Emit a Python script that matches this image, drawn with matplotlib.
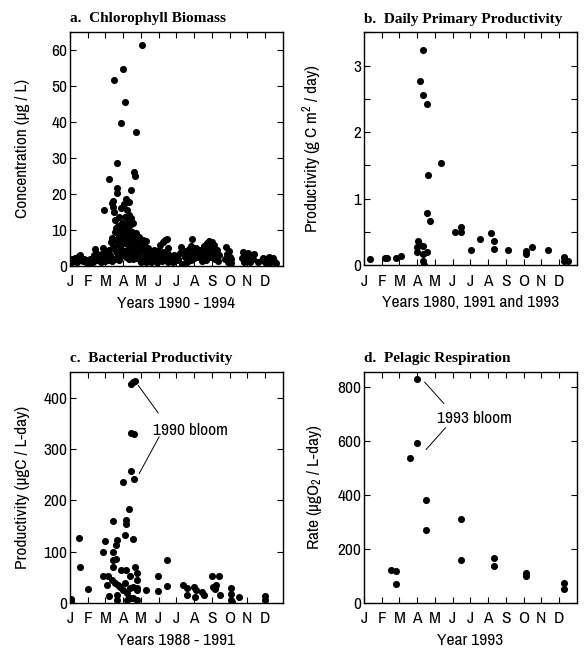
import matplotlib
matplotlib.use("Agg")
import matplotlib.pyplot as plt
from matplotlib.ticker import MultipleLocator

plt.rcParams['font.family'] = ['Archivo Narrow', 'DejaVu Sans']
plt.rcParams['mathtext.fontset'] = 'custom'
plt.rcParams['mathtext.rm'] = 'Archivo Narrow'
plt.rcParams['mathtext.it'] = 'Archivo Narrow'

months = ['J', 'F', 'M', 'A', 'M', 'J', 'J', 'A', 'S', 'O', 'N', 'D']

# a. chlorophyll, month (0 = 1 Jan) vs ug/L
chl_month = [
    0.05, 0.12, 0.2, 0.28, 0.35, 0.42, 0.5, 0.58, 0.65, 0.72, 0.8, 0.88, 0.95,
    1.05, 1.12, 1.2, 1.28, 1.35, 1.4, 1.45, 1.5, 1.58, 1.65, 1.72, 1.8, 1.85, 1.9, 1.95,
    2.02, 2.08, 2.12, 2.18, 2.22, 2.25, 2.3, 2.33, 2.36, 2.38, 2.4, 2.42, 2.45, 2.47,
    2.5, 2.52, 2.55, 2.57, 2.6, 2.62, 2.63, 2.63, 2.65, 2.67, 2.7, 2.72, 2.75, 2.78,
    2.8, 2.82, 2.85, 2.87, 2.89, 2.9, 2.92, 2.95, 2.97,
    3.0, 3.02, 3.05, 3.08, 3.1, 3.1, 3.12, 3.15, 3.18, 3.2, 3.22, 3.25, 3.28, 3.3,
    3.32, 3.35, 3.38, 3.4, 3.42, 3.45, 3.46, 3.48, 3.5, 3.52, 3.55, 3.58, 3.6, 3.62,
    3.65, 3.68, 3.7, 3.72, 3.75, 3.78, 3.8, 3.82, 3.85, 3.88, 3.9, 3.92, 3.95, 3.98,
    3.05, 3.15, 3.25, 3.35, 3.45, 3.55, 3.65, 3.75, 3.85, 3.95,
    4.02, 4.07, 4.1, 4.15, 4.2, 4.25, 4.3, 4.35, 4.4, 4.45, 4.5, 4.55, 4.6, 4.65,
    4.7, 4.75, 4.8, 4.85, 4.9, 4.95, 4.12, 4.28, 4.42, 4.58, 4.72, 4.88,
    5.0, 5.05, 5.1, 5.15, 5.2, 5.25, 5.3, 5.35, 5.4, 5.45, 5.5, 5.55, 5.6, 5.65,
    5.7, 5.75, 5.8, 5.85, 5.9, 6.0, 6.1, 6.2, 6.28, 6.3,
    6.5, 6.55, 6.6, 6.65, 6.7, 6.75, 6.8, 6.85, 6.9, 6.95, 7.0, 7.05, 7.1, 7.15,
    7.3, 7.35, 7.4, 7.5, 7.55, 7.6, 7.7, 7.75, 7.8, 7.85, 7.9, 7.95, 8.0, 8.05,
    8.1, 8.15, 8.2, 8.3, 8.4,
    8.75, 8.8, 8.85, 8.9, 8.95, 9.0, 9.05, 9.1,
    9.7, 9.75, 9.8, 9.9, 10.0, 10.05, 10.1, 10.2, 10.3, 10.35, 10.6,
    10.85, 10.9, 11.0, 11.05, 11.1, 11.2, 11.3, 11.35, 11.45, 11.5, 11.6,
    0.1, 0.4, 0.75, 1.0, 1.3, 1.55, 1.75, 2.0, 2.2, 2.35, 2.55, 2.75, 4.0, 4.3, 4.6,
    4.9, 5.2, 5.5, 5.8, 6.05, 6.6, 6.85, 7.45, 7.65, 8.25, 8.35, 8.95, 9.8, 10.15,
]
chl_value = [
    1.6, 2.0, 1.3, 2.2, 1.8, 1.4, 2.6, 3.1, 2.0, 1.5, 1.9, 1.2, 1.6,
    1.4, 1.8, 1.2, 2.3, 3.0, 4.8, 3.6, 2.5, 1.8, 2.9, 2.2, 3.4, 4.9, 15.5, 3.2,
    2.5, 3.8, 2.0, 4.5, 24.2, 3.0, 6.5, 2.2, 7.8, 17.5, 18.0, 16.2, 5.2, 51.5,
    14.8, 9.5, 12.8, 4.0, 7.2, 10.5, 21.5, 20.2, 28.5, 3.5, 11.0, 6.0, 8.5, 13.5,
    5.5, 9.8, 16.0, 3.0, 39.5, 7.5, 12.0, 4.5, 10.2,
    54.5, 8.5, 17.2, 13.5, 45.5, 6.2, 11.0, 18.5, 9.0, 15.5, 4.5, 12.2, 7.5, 17.8,
    10.0, 14.0, 5.5, 8.8, 11.5, 13.2, 21.0, 6.8, 9.5, 4.2, 7.8, 12.0, 26.0, 5.0,
    8.2, 25.0, 37.0, 6.5, 9.0, 4.0, 7.2, 5.5, 3.2, 6.8, 8.0, 4.5, 7.0, 5.2,
    3.0, 2.5, 3.5, 2.0, 2.8, 1.8, 3.2, 2.2, 2.6, 1.5,
    6.5, 61.2, 7.2, 4.0, 5.8, 3.2, 6.8, 2.5, 5.0, 3.8, 2.2, 4.2, 3.0, 1.8,
    2.8, 4.5, 2.0, 3.2, 1.5, 2.5, 2.0, 1.5, 1.8, 1.2, 1.6, 1.0,
    4.5, 2.0, 5.8, 3.0, 2.2, 6.5, 3.8, 7.3, 2.5, 7.5, 5.0, 3.2, 2.0, 2.8,
    1.8, 2.5, 2.0, 3.0, 1.5, 2.5, 2.0, 3.5, 5.3, 0.4,
    2.5, 4.0, 3.2, 1.8, 4.8, 2.8, 3.5, 5.5, 7.4, 4.2, 2.2, 3.8, 5.0, 2.5,
    3.0, 4.5, 2.2, 3.8, 5.5, 2.8, 4.2, 6.2, 3.5, 6.8, 5.0, 2.5, 6.5, 4.0,
    5.8, 3.2, 2.0, 4.5, 3.0,
    2.0, 5.3, 3.2, 1.2, 4.2, 2.5, 0.8, 2.0,
    2.2, 3.8, 3.0, 1.8, 2.5, 3.5, 1.5, 2.8, 2.0, 3.2, 1.0,
    1.5, 2.3, 1.2, 2.0, 0.8, 2.5, 1.5, 1.0, 2.2, 1.4, 0.7,
    1.0, 1.1, 1.3, 0.9, 1.2, 1.5, 1.0, 1.4, 1.6, 1.3, 1.8, 1.5, 1.2, 1.0, 1.3,
    1.1, 1.4, 1.2, 1.0, 1.5, 1.2, 1.6, 1.3, 1.5, 1.8, 1.4, 1.1, 1.2, 1.0,
]

# b. daily primary productivity (g C m2 / day)
pp_month = [0.32, 1.18, 1.31, 1.8, 2.1, 3.04, 3.0, 3.15, 3.3, 3.0, 3.55, 3.3, 3.34, 3.36,
            3.14, 3.34, 3.34, 3.57, 3.62, 3.55, 3.7, 4.34, 5.15, 5.45, 5.45, 6.05, 6.54,
            7.14, 7.34, 7.34, 8.11, 9.16, 9.16, 9.46, 10.38, 11.27, 11.3, 11.5]
pp_value = [0.09, 0.11, 0.11, 0.11, 0.14, 0.37, 0.27, 0.30, 0.29, 0.20, 0.20, 0.17, 0.06, 0.01,
            2.76, 3.24, 2.56, 2.42, 1.35, 0.79, 0.67, 1.54, 0.50, 0.57, 0.50, 0.23, 0.39,
            0.48, 0.36, 0.25, 0.23, 0.21, 0.17, 0.27, 0.23, 0.12, 0.07, 0.07]

# c. bacterial productivity (ugC / L-day)
bp_month = [0.06, 0.06, 0.53, 0.56, 1.0, 1.84, 1.99, 1.88, 2.07, 2.16, 2.2, 2.4, 2.44,
            2.57, 2.67, 2.44, 2.44, 2.6, 2.35, 2.54, 2.72, 2.8, 2.63, 2.63, 2.9, 2.97,
            3.1, 3.14, 3.14, 3.15, 3.1, 3.0, 3.2, 3.2, 3.34, 3.44, 3.44, 3.62, 3.44, 3.57,
            3.66, 3.6, 3.57, 3.66, 3.38, 3.38, 3.38, 3.57, 3.57, 3.76, 3.76, 3.76, 3.8, 3.8,
            4.28, 4.98, 4.98, 5.45, 5.45, 6.38, 6.57, 6.6, 7.0, 7.04, 7.1, 7.47, 7.55,
            8.0, 8.08, 8.19, 8.41, 8.45, 8.23, 9.07, 9.1, 9.1, 9.13, 9.54, 10.99, 10.99]
bp_value = [8, 1, 127, 71, 27, 99, 120, 53, 36, 53, 13, 160, 99,
            113, 123, 84, 71, 85, 45, 39, 36, 32, 16, 6, 65, 236,
            133, 162, 154, 65, 39, 26, 19, 6, 183, 258, 332, 330, 427, 430,
            432, 242, 125, 70, 52, 30, 10, 32, 10, 58, 45, 30, 26, 6,
            25, 52, 23, 84, 34, 36, 29, 16, 32, 11, 25, 21, 16,
            53, 32, 27, 52, 16, 36, 30, 17, 6, 1, 11, 14, 6]

# d. pelagic respiration 1993 (ugO2 / L-day)
resp_month = [1.5, 1.78, 1.78, 2.57, 2.97, 2.97, 3.47, 3.47, 5.45, 5.48, 7.32, 7.32,
              9.15, 9.15, 11.27, 11.27]
resp_value = [123, 119, 72, 537, 831, 594, 380, 272, 310, 160, 167, 136,
              111, 99, 74, 53]

fig = plt.figure(figsize=(5.88, 6.58), dpi=100)
ax_a = fig.add_axes([0.119, 0.596, 0.362, 0.356])
ax_b = fig.add_axes([0.619, 0.597, 0.362, 0.354])
ax_c = fig.add_axes([0.119, 0.0836, 0.362, 0.351])
ax_d = fig.add_axes([0.619, 0.0836, 0.362, 0.351])

title_font = dict(family='Liberation Serif', weight='bold', size=11)
FS = 12.5


def style(ax, title, xlabel, ylabel):
    ax.set_xlim(0, 12)
    ax.set_xticks(range(12))
    ax.set_xticklabels(months)
    ax.tick_params(direction='in', length=4, width=0.8, top=True, right=True,
                   labelsize=FS, which='both')
    ax.tick_params(axis='y', pad=2)
    ax.tick_params(axis='x', pad=6)
    for s in ax.spines.values():
        s.set_linewidth(1.0)
    ax.set_title(title, loc='left', pad=7, fontdict=title_font)
    ax.set_xlabel(xlabel, fontsize=FS, labelpad=5)
    ax.set_ylabel(ylabel, fontsize=FS)
    ax.yaxis.set_label_coords(-0.19, 0.5)


ax_a.scatter(chl_month, chl_value, s=26, color='black', linewidths=0, zorder=3)
ax_a.set_ylim(0, 65)
ax_a.set_yticks(range(0, 61, 10))
style(ax_a, 'a.  Chlorophyll Biomass', 'Years 1990 - 1994', 'Concentration (µg / L)')

ax_b.scatter(pp_month, pp_value, s=26, color='black', linewidths=0, zorder=3)
ax_b.set_ylim(0, 3.5)
ax_b.set_yticks([0, 1, 2, 3])
ax_b.yaxis.set_minor_locator(MultipleLocator(0.5))
style(ax_b, 'b.  Daily Primary Productivity', 'Years 1980, 1991 and 1993',
      'Productivity (g C m$^2$ / day)')

ax_c.scatter(bp_month, bp_value, s=26, color='black', linewidths=0, zorder=3)
ax_c.set_ylim(0, 450)
ax_c.set_yticks(range(0, 401, 100))
style(ax_c, 'c.  Bacterial Productivity', 'Years 1988 - 1991', 'Productivity (µgC / L-day)')
ax_c.text(6.8, 337, '1990 bloom', fontsize=FS, ha='center', va='center')
ax_c.annotate('', xy=(3.85, 424), xytext=(4.98, 370),
              arrowprops=dict(arrowstyle='-', lw=0.7, shrinkA=0, shrinkB=0))
ax_c.annotate('', xy=(3.9, 252), xytext=(5.03, 324),
              arrowprops=dict(arrowstyle='-', lw=0.7, shrinkA=0, shrinkB=0))

ax_d.scatter(resp_month, resp_value, s=26, color='black', linewidths=0, zorder=3)
ax_d.set_ylim(0, 855)
ax_d.set_yticks(range(0, 801, 200))
style(ax_d, 'd.  Pelagic Respiration', 'Year 1993', 'Rate (µgO$_2$ / L-day)')
ax_d.text(6.2, 683, '1993 bloom', fontsize=FS, ha='center', va='center')
ax_d.annotate('', xy=(3.42, 818), xytext=(4.51, 738),
              arrowprops=dict(arrowstyle='-', lw=0.7, shrinkA=0, shrinkB=0))
ax_d.annotate('', xy=(3.5, 568), xytext=(4.6, 649),
              arrowprops=dict(arrowstyle='-', lw=0.7, shrinkA=0, shrinkB=0))

fig.savefig('out.png', dpi=100)
